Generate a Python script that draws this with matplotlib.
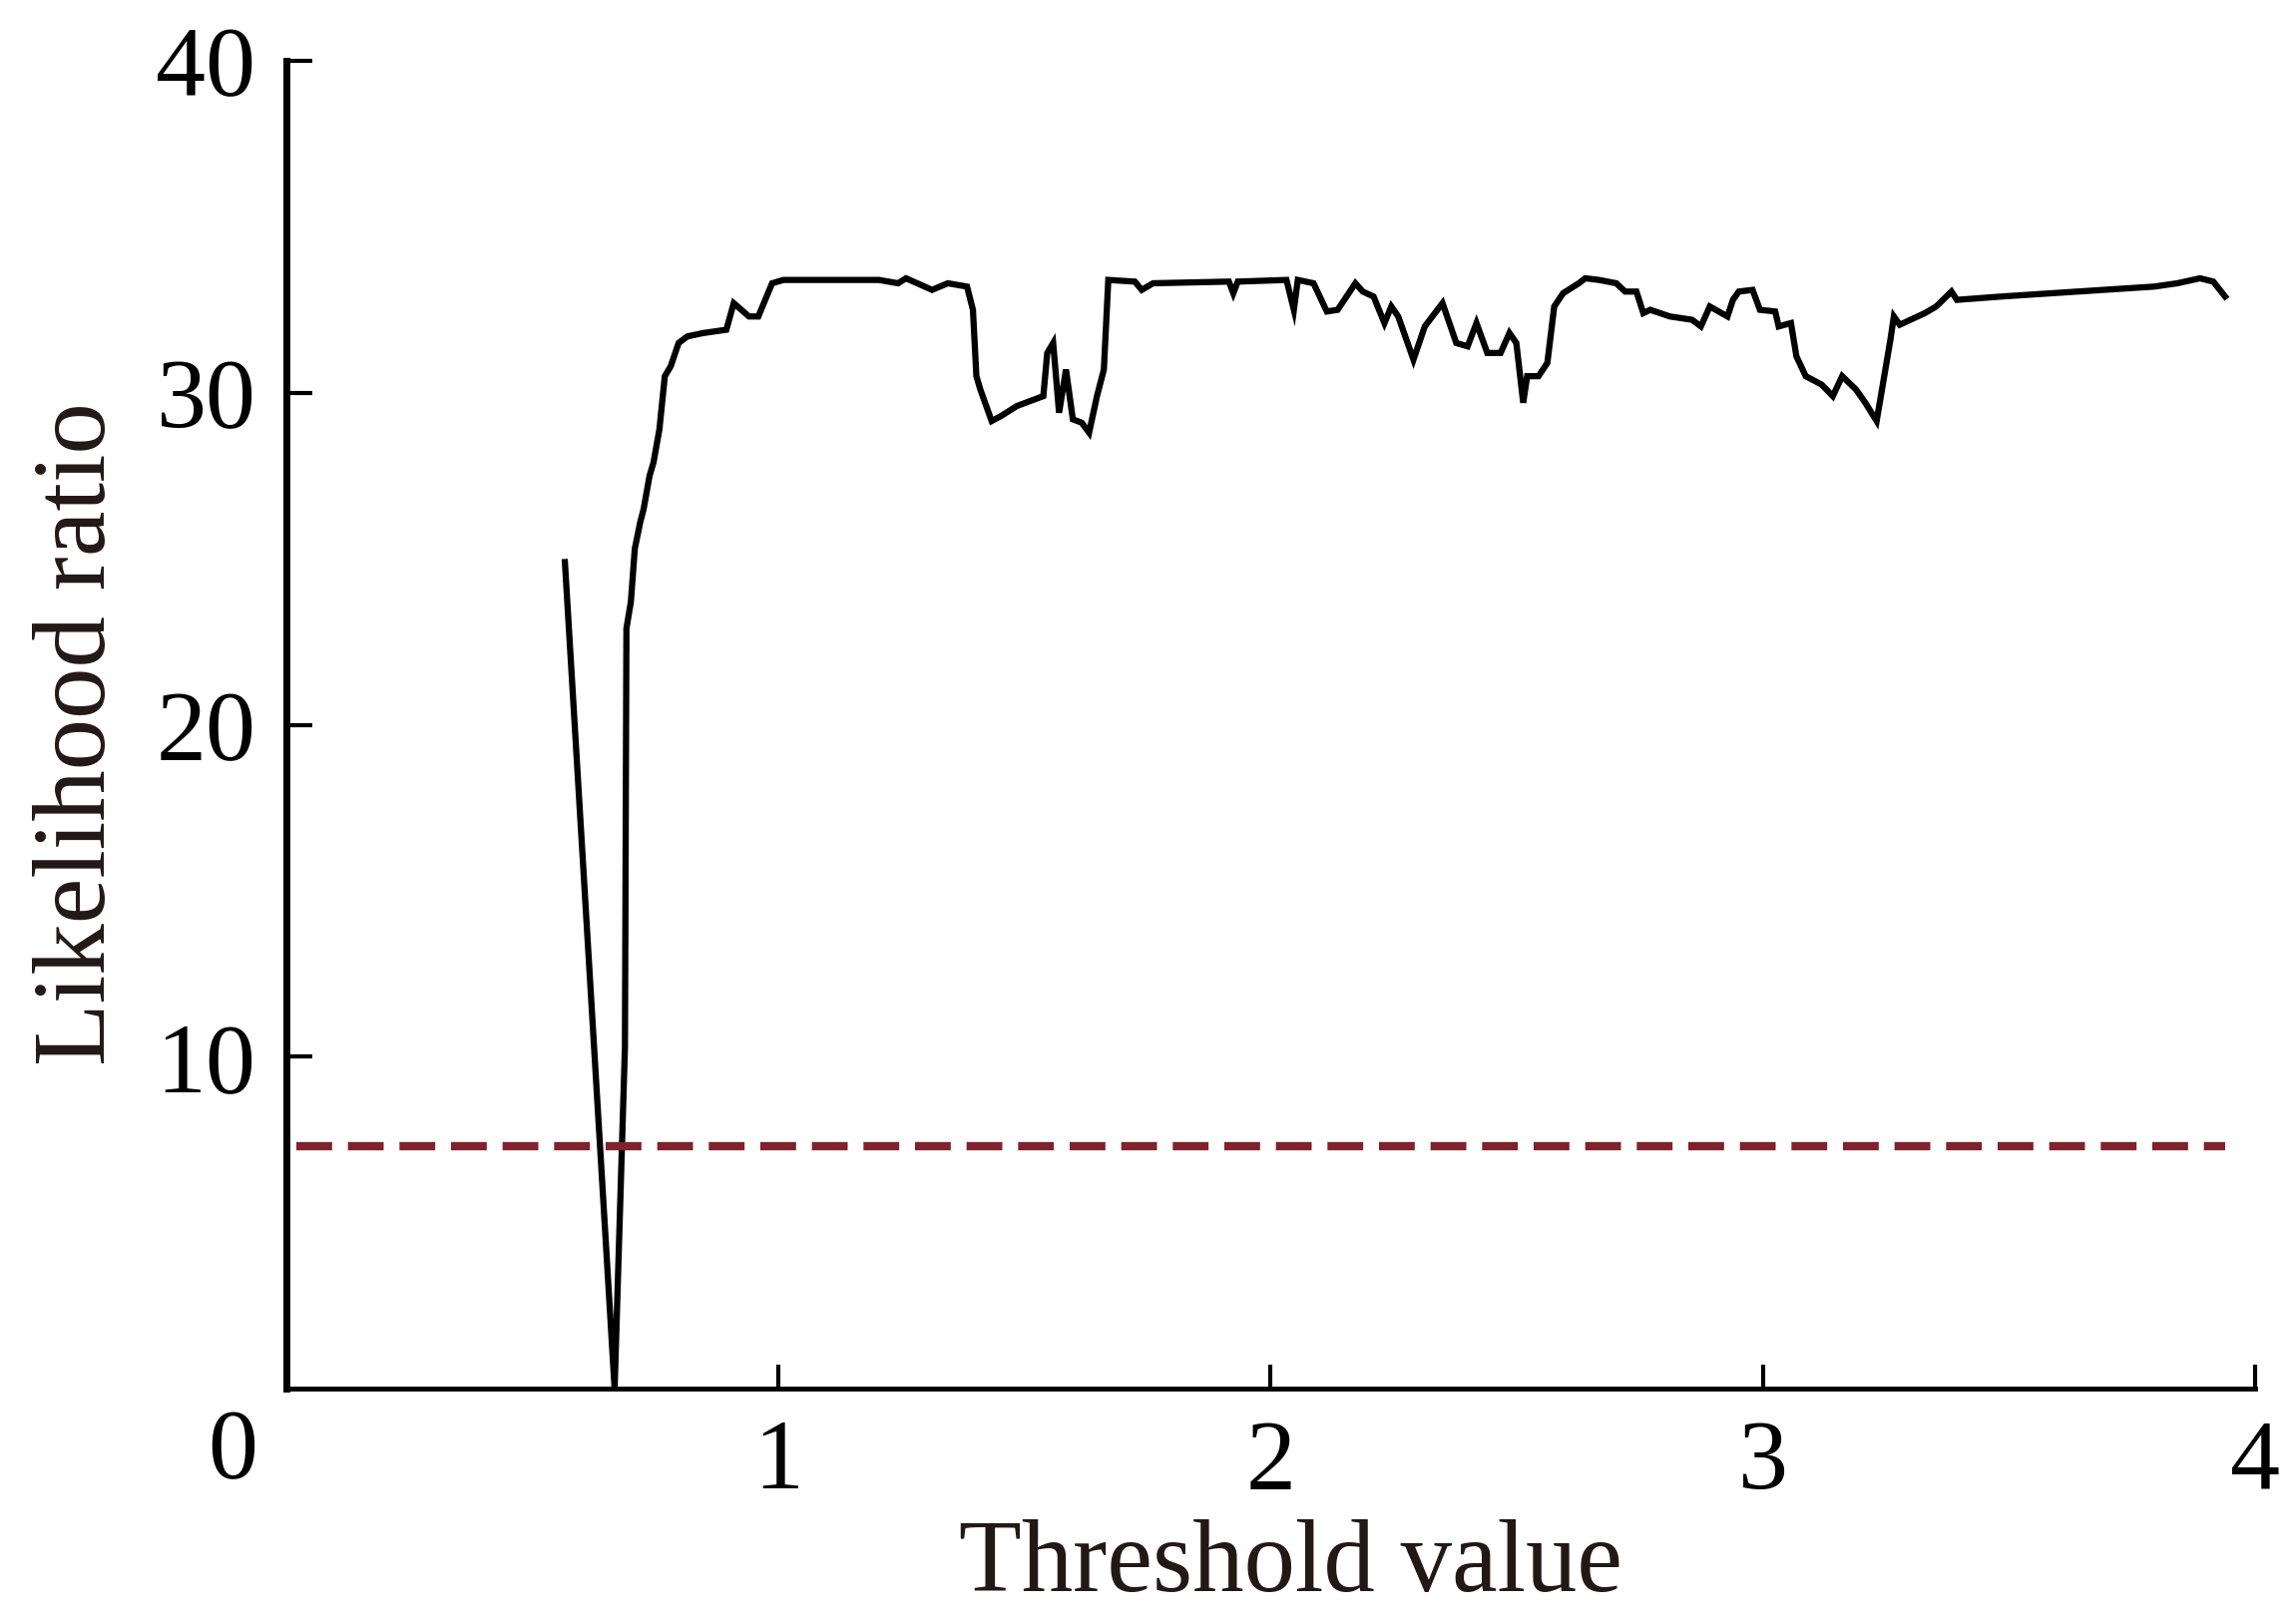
import numpy as np
from matplotlib import pyplot as plt

# likelihood ratio statistic against threshold value
threshold = [0.566, 0.667, 0.688, 0.691, 0.700, 0.708, 0.719, 0.726, 0.738, 0.746,
             0.758, 0.769, 0.781, 0.797, 0.815, 0.847, 0.894, 0.909, 0.940, 0.959,
             0.987, 1.010, 1.204, 1.243, 1.259, 1.312, 1.344, 1.383, 1.395, 1.402,
             1.410, 1.433, 1.452, 1.484, 1.538, 1.546, 1.558, 1.570, 1.584, 1.598,
             1.616, 1.631, 1.647, 1.661, 1.670, 1.724, 1.738, 1.761, 1.915, 1.924,
             1.933, 2.032, 2.047, 2.055, 2.087, 2.114, 2.136, 2.172, 2.187, 2.209,
             2.231, 2.245, 2.259, 2.290, 2.313, 2.349, 2.377, 2.400, 2.418, 2.440,
             2.467, 2.485, 2.499, 2.513, 2.521, 2.544, 2.562, 2.576, 2.594, 2.626,
             2.639, 2.667, 2.702, 2.720, 2.743, 2.757, 2.771, 2.811, 2.856, 2.874,
             2.892, 2.928, 2.939, 2.951, 2.979, 2.994, 3.025, 3.032, 3.057, 3.068,
             3.087, 3.119, 3.142, 3.161, 3.189, 3.208, 3.231, 3.243, 3.259, 3.266,
             3.278, 3.329, 3.352, 3.383, 3.394, 3.484, 3.639, 3.795, 3.842, 3.888,
             3.915, 3.939]
likelihood = [24.9, 0.0, 10.3, 22.9, 23.7, 25.3, 26.1, 26.5, 27.5, 27.9,
              28.9, 30.5, 30.8, 31.5, 31.7, 31.8, 31.9, 32.7, 32.3, 32.3,
              33.3, 33.4, 33.4, 33.3, 33.45, 33.1, 33.3, 33.2, 32.5, 30.5,
              30.1, 29.15, 29.3, 29.6, 29.9, 31.2, 31.5, 29.4, 30.7, 29.2,
              29.1, 28.8, 29.9, 30.7, 33.4, 33.35, 33.1, 33.3, 33.35, 33.0,
              33.35, 33.4, 32.5, 33.4, 33.3, 32.45, 32.5, 33.3, 33.05, 32.9,
              32.1, 32.6, 32.3, 31.0, 32.0, 32.7, 31.5, 31.4, 32.1, 31.2,
              31.2, 31.8, 31.5, 29.7, 30.5, 30.5, 30.9, 32.6, 33.0, 33.3,
              33.45, 33.4, 33.3, 33.05, 33.05, 32.4, 32.5, 32.3, 32.2, 32.0,
              32.6, 32.3, 32.8, 33.05, 33.1, 32.5, 32.45, 32.0, 32.1, 31.1,
              30.5, 30.25, 29.9, 30.5, 30.1, 29.7, 29.15, 30.2, 31.6, 32.3,
              32.05, 32.4, 32.6, 33.05, 32.8, 32.9, 33.05, 33.2, 33.3, 33.45,
              33.35, 32.9]

critical_value = 7.3
critical_span = [0.02, 3.94]

xticks = [1, 2, 3, 4]
yticks = [10, 20, 30, 40]

plt.rcParams['font.family'] = ['Liberation Serif', 'DejaVu Serif']

fig = plt.figure(figsize=(23.01, 16.27), dpi=100)
ax = fig.add_axes([0.1247, 0.1444, 0.8575, 0.8181])

ax.plot(threshold, likelihood, color='black', linewidth=4.5, solid_joinstyle='miter')
ax.plot(critical_span, [critical_value, critical_value], color='#7f222b',
        linewidth=6, dashes=(4.3, 1.9))

ax.set_xlim(0, 4)
ax.set_ylim(0, 40)
ax.set_xticks(xticks)
ax.set_yticks(yticks)

for side in ['top', 'right']:
    ax.spines[side].set_visible(False)
ax.spines['left'].set_linewidth(5)
ax.spines['bottom'].set_linewidth(3.5)

ax.tick_params(axis='x', direction='in', length=17, width=3, pad=22, labelsize=72)
ax.tick_params(axis='y', direction='in', length=19, width=3, pad=22, labelsize=72)

ax.annotate('0', xy=(0, 0), xycoords='data', xytext=(-54, -65),
            textcoords='offset pixels', ha='center', va='center', fontsize=72)

ax.set_xlabel('Threshold value', fontsize=74, color='#231815')
ax.set_ylabel('Likelihood ratio', fontsize=74, color='#231815')
ax.xaxis.set_label_coords(0.51, -0.098)
ax.yaxis.set_label_coords(-0.081, 0.493)

fig.savefig('out.png', dpi=100)
